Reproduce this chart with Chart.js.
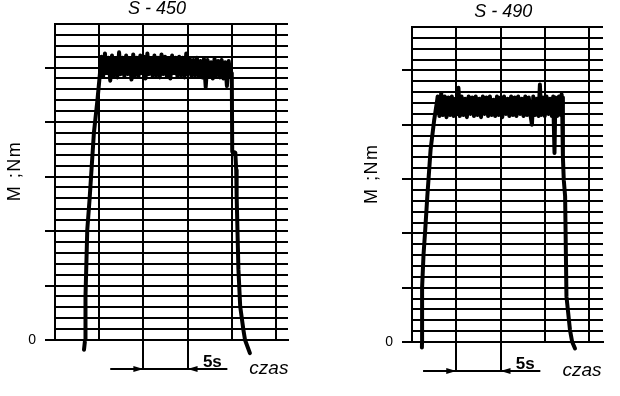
<!DOCTYPE html>
<html>
<head>
<meta charset="utf-8">
<script src="https://cdn.jsdelivr.net/npm/chart.js@4"></script>
<style>
  body { margin: 0; background: #fff; }
  #wrap { position: relative; width: 620px; height: 396px; overflow: hidden; }
  canvas { position: absolute; top: 0; }
  #c450 { left: 0; }
  #c490 { left: 310px; }
</style>
</head>
<body>
<div id="wrap">
  <canvas id="c450" width="310" height="396"></canvas>
  <canvas id="c490" width="310" height="396"></canvas>
</div>
<script>
// torque trace S-450 (time in s, torque in grid units)
const s450Time = [
  3.28, 3.40, 3.45, 3.65, 3.92, 4.40, 4.80, 5.02, 5.20,
  5.25, 5.45, 5.65, 5.85, 6.05, 6.25, 6.45, 6.65, 6.85, 7.05,
  7.25, 7.45, 7.65, 7.85, 8.05, 8.25, 8.45, 8.65, 8.85, 9.05,
  9.25, 9.45, 9.65, 9.85, 10.05, 10.25, 10.45, 10.65, 10.85, 11.05,
  11.25, 11.45, 11.65, 11.85, 12.05, 12.25, 12.45, 12.65, 12.85, 13.05,
  13.25, 13.45, 13.65, 13.85, 14.05, 14.25, 14.45, 14.65, 14.85, 15.05,
  15.25, 15.45, 15.65, 15.85, 16.05, 16.25, 16.45, 16.65, 16.85, 17.05,
  17.25, 17.45, 17.65, 17.85, 18.05, 18.25, 18.45, 18.65, 18.85, 19.05,
  19.25, 19.45, 19.65, 19.85,
  20.00, 20.05, 20.40, 20.50, 20.55, 20.75, 20.95, 21.30, 21.50, 22.05
];
const s450Torque = [
  -0.9, 0.0, 4.0, 10.1, 13.0, 19.0, 22.0, 23.9, 25.5,
  26.0, 24.2, 26.3, 24.5, 25.9, 23.8, 26.1, 24.3, 25.8, 24.1,
  26.4, 24.4, 25.9, 24.2, 26.1, 24.4, 25.8, 23.9, 26.2, 24.3,
  25.9, 24.2, 26.1, 24.5, 26.0, 24.0, 26.3, 24.4, 25.8, 24.2,
  26.1, 24.3, 25.9, 24.1, 26.2, 24.4, 26.0, 24.2, 25.8, 24.0,
  26.1, 24.5, 25.9, 24.2, 26.0, 24.3, 25.9, 24.1, 26.3, 24.4,
  25.8, 24.2, 25.7, 24.3, 25.9, 24.2, 25.6, 24.1, 25.8, 23.2,
  25.7, 24.2, 25.5, 24.0, 25.8, 24.3, 25.6, 24.1, 25.7, 24.0,
  25.5, 23.3, 25.6, 24.2,
  24.5, 17.3, 17.2, 15.6, 13.2, 6.5, 3.1, 1.0, 0.0, -1.2
];

// torque trace S-490
const s490Time = [
  1.12, 1.13, 1.14, 1.30, 1.50, 1.73, 2.10, 2.50, 2.80,
  2.90, 3.10, 3.30, 3.50, 3.70, 3.90, 4.10, 4.30, 4.50, 4.70,
  4.90, 5.10, 5.25, 5.40, 5.60, 5.80, 6.00, 6.20, 6.40, 6.60,
  6.80, 7.00, 7.20, 7.40, 7.60, 7.80, 8.00, 8.20, 8.40, 8.60,
  8.80, 9.00, 9.20, 9.40, 9.60, 9.80, 10.00, 10.20, 10.40, 10.60,
  10.80, 11.00, 11.20, 11.40, 11.60, 11.80, 12.00, 12.20, 12.40, 12.60,
  12.80, 13.00, 13.20, 13.40, 13.55, 13.70, 13.90, 14.10, 14.30, 14.45,
  14.60, 14.80, 15.00, 15.20, 15.40, 15.60, 15.80, 15.95, 16.10, 16.20,
  16.40, 16.60, 16.80, 16.90,
  16.95, 17.05, 17.15, 17.30, 17.45, 17.85, 18.10, 18.42
];
const s490Torque = [
  -0.5, 0.0, 5.0, 8.0, 10.4, 13.4, 17.7, 20.4, 22.0,
  22.6, 20.8, 22.9, 20.9, 22.6, 20.7, 22.5, 20.9, 22.6, 20.8,
  22.4, 21.0, 23.4, 20.8, 22.6, 20.9, 22.4, 20.7, 22.6, 21.0,
  22.5, 20.8, 22.6, 20.9, 22.4, 20.7, 22.6, 21.0, 22.5, 20.8,
  22.6, 20.9, 22.3, 20.8, 22.6, 20.9, 22.5, 20.7, 22.6, 21.0,
  22.4, 20.8, 22.6, 20.9, 22.5, 20.8, 22.6, 21.0, 22.4, 20.8,
  22.6, 20.9, 22.5, 20.8, 20.0, 22.6, 20.9, 22.4, 20.8, 23.7,
  20.9, 22.5, 20.8, 22.6, 21.0, 22.4, 20.8, 22.6, 17.4, 22.5,
  20.8, 22.6, 20.9, 22.8,
  22.5, 17.0, 14.9, 13.4, 4.2, 1.1, 0.0, -0.6
];

const panelTitles = ["S - 450", "S - 490"];
const yAxisLabel = "M ;Nm";
const timeLabel = "czas";
const spanLabel = "5s";
const yMax = 29;          // grid units shown
const majorEvery = 5;     // long ticks on the M axis
const marks450 = [10, 15]; // 5 s span marks
const marks490 = [5, 10];

const FONT = '"Liberation Sans", Arial, sans-serif';
Chart.defaults.font.family = FONT;
Chart.defaults.color = "#000";

const panelDecor = {
  id: "panelDecor",
  afterDraw(chart, args, o) {
    const { ctx, chartArea, scales: { x, y } } = chart;
    ctx.save();
    ctx.fillStyle = "#000";
    ctx.strokeStyle = "#000";
    ctx.textAlign = "center";
    ctx.textBaseline = "middle";

    ctx.font = "italic 18px " + FONT;
    ctx.fillText(o.title, x.getPixelForValue(o.titleAt), chartArea.top - 15);

    ctx.save();
    ctx.translate(chartArea.left - 40, y.getPixelForValue(15.5));
    ctx.rotate(-Math.PI / 2);
    ctx.font = "18px " + FONT;
    ctx.letterSpacing = "1.5px";
    ctx.fillText(yAxisLabel, 0, 0);
    ctx.restore();

    // 5 s span arrows
    const ay = chartArea.bottom + chart.options.scales.x.grid.tickLength;
    const [m1, m2] = o.marks;
    const x1 = x.getPixelForValue(m1);
    const x2 = x.getPixelForValue(m2);
    ctx.lineWidth = 2;
    ctx.beginPath();
    ctx.moveTo(x.getPixelForValue(m1 - 3.75), ay);
    ctx.lineTo(x.getPixelForValue(m2 + 4.5), ay);
    ctx.stroke();
    ctx.beginPath();
    ctx.moveTo(x1, ay); ctx.lineTo(x1 - 10, ay - 3); ctx.lineTo(x1 - 10, ay + 3);
    ctx.closePath(); ctx.fill();
    ctx.beginPath();
    ctx.moveTo(x2, ay); ctx.lineTo(x2 + 10, ay - 3); ctx.lineTo(x2 + 10, ay + 3);
    ctx.closePath(); ctx.fill();

    ctx.font = "bold 17px " + FONT;
    ctx.textBaseline = "alphabetic";
    ctx.fillText(spanLabel, x.getPixelForValue(m2 + 2.8), ay - 2);

    ctx.font = "italic 19px " + FONT;
    ctx.textBaseline = "middle";
    ctx.fillText(timeLabel, x.getPixelForValue(m2 + 9.2), ay);
    ctx.restore();
  }
};

function makePanel(id, times, torque, cfg) {
  const ctx = document.getElementById(id).getContext("2d");
  return new Chart(ctx, {
    type: "line",
    data: {
      datasets: [{
        data: times.map((t, i) => ({ x: t, y: torque[i] })),
        borderColor: "#000",
        borderWidth: 4,
        pointRadius: 0,
        tension: 0,
        borderJoinStyle: "round",
        borderCapStyle: "round",
        clip: false
      }]
    },
    options: {
      responsive: false,
      animation: false,
      layout: { padding: { left: 0, top: cfg.top, right: cfg.right, bottom: 0 } },
      plugins: {
        legend: { display: false },
        tooltip: { enabled: false },
        panelDecor: { title: cfg.title, titleAt: cfg.titleAt, marks: cfg.marks }
      },
      scales: {
        x: {
          type: "linear",
          min: 0,
          max: cfg.xMax,
          afterFit: (s) => { s.height = cfg.bottom; },
          ticks: { stepSize: 5, includeBounds: false, display: false, autoSkip: false },
          grid: {
            color: "#000",
            lineWidth: 2,
            tickLength: 29,
            tickWidth: 2,
            tickColor: (c) => cfg.marks.includes(c.tick.value) ? "#000" : "rgba(0,0,0,0)"
          },
          border: { color: "#000", width: 2 }
        },
        y: {
          min: 0,
          max: yMax,
          afterFit: (s) => { s.width = cfg.left; },
          ticks: {
            stepSize: 1,
            maxTicksLimit: 100,
            autoSkip: false,
            padding: 9,
            font: { size: 14 },
            callback: (v) => (v === 0 ? "0" : "")
          },
          grid: {
            color: "#000",
            lineWidth: 2,
            tickLength: 10,
            tickWidth: 2,
            tickColor: (c) => c.tick.value % majorEvery === 0 ? "#000" : "rgba(0,0,0,0)"
          },
          border: { color: "#000", width: 2 }
        }
      }
    },
    plugins: [panelDecor]
  });
}

makePanel("c450", s450Time, s450Torque, {
  title: panelTitles[0], titleAt: 11.55, marks: marks450,
  xMax: 26.36, left: 55, right: 22, top: 24, bottom: 56
});
makePanel("c490", s490Time, s490Torque, {
  title: panelTitles[1], titleAt: 10.3, marks: marks490,
  xMax: 21.58, left: 102, right: 17, top: 27, bottom: 54
});
</script>
</body>
</html>
